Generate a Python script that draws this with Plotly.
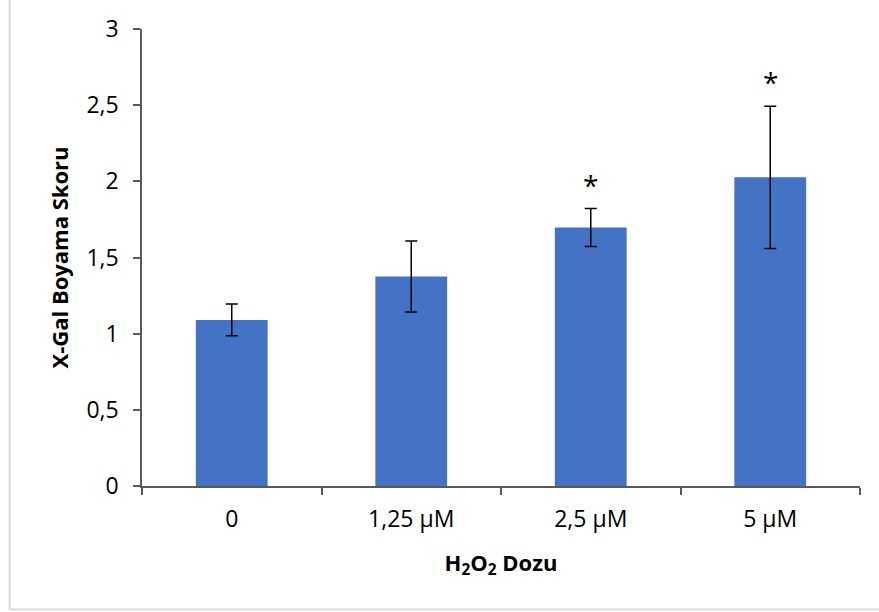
import plotly.graph_objects as go

categories = ["0", "1,25 µM", "2,5 µM", "5 µM"]
means = [1.09, 1.375, 1.697, 2.026]
errors = [0.104, 0.233, 0.124, 0.467]
significant = [False, False, True, True]

fig = go.Figure()
fig.add_trace(go.Bar(
    x=categories, y=means, width=0.4,
    marker=dict(color="#4472C4", line=dict(width=0)),
    error_y=dict(type="data", array=errors, visible=True,
                 color="black", thickness=1.5, width=6),
))

for c, m, e, s in zip(categories, means, errors, significant):
    if s:
        fig.add_annotation(x=c, y=m + e, text="*", showarrow=False,
                           yanchor="middle", yshift=24,
                           font=dict(family="Open Sans", size=28, color="black"))

font = "Open Sans"
fig.update_layout(
    width=879, height=612,
    margin=dict(l=142, r=19, t=29, b=126, autoexpand=False),
    paper_bgcolor="white", plot_bgcolor="white",
    separators=",.",
    showlegend=False,
    bargap=0.6,
    font=dict(family=font, size=23, color="black"),
    xaxis=dict(
        type="category", range=[-0.5, 3.5],
        showline=True, linecolor="#595959", linewidth=1.5,
        ticks="outside", tickson="boundaries", ticklen=7, tickcolor="#595959", tickwidth=1.5,
        ticklabelstandoff=12,
        tickfont=dict(family=font, size=23, color="black"),
        title=dict(text="<b>H<sub>2</sub>O<sub>2</sub> Dozu</b>", standoff=22,
                   font=dict(family=font, size=22, color="black")),
        showgrid=False, automargin=False,
    ),
    yaxis=dict(
        range=[0, 3], tickvals=[0, 0.5, 1, 1.5, 2, 2.5, 3],
        showline=True, linecolor="#595959", linewidth=1.5,
        ticks="outside", ticklen=7, tickcolor="#595959", tickwidth=1.5,
        ticklabelstandoff=10,
        tickfont=dict(family=font, size=23, color="black"),
        title=dict(text="<b>X-Gal Boyama Skoru</b>", standoff=12,
                   font=dict(family=font, size=22, color="black")),
        showgrid=False, zeroline=False, automargin=False,
    ),
    shapes=[
        dict(type="line", xref="paper", yref="paper", x0=-0.1845, x1=-0.1845, y0=-0.27, y1=1.2,
             line=dict(color="#d9d9d9", width=2)),
        dict(type="line", xref="paper", yref="paper", x0=-0.1845, x1=1.1, y0=-0.27, y1=-0.27,
             line=dict(color="#d9d9d9", width=2)),
    ],
)

fig.write_html("out.html")
